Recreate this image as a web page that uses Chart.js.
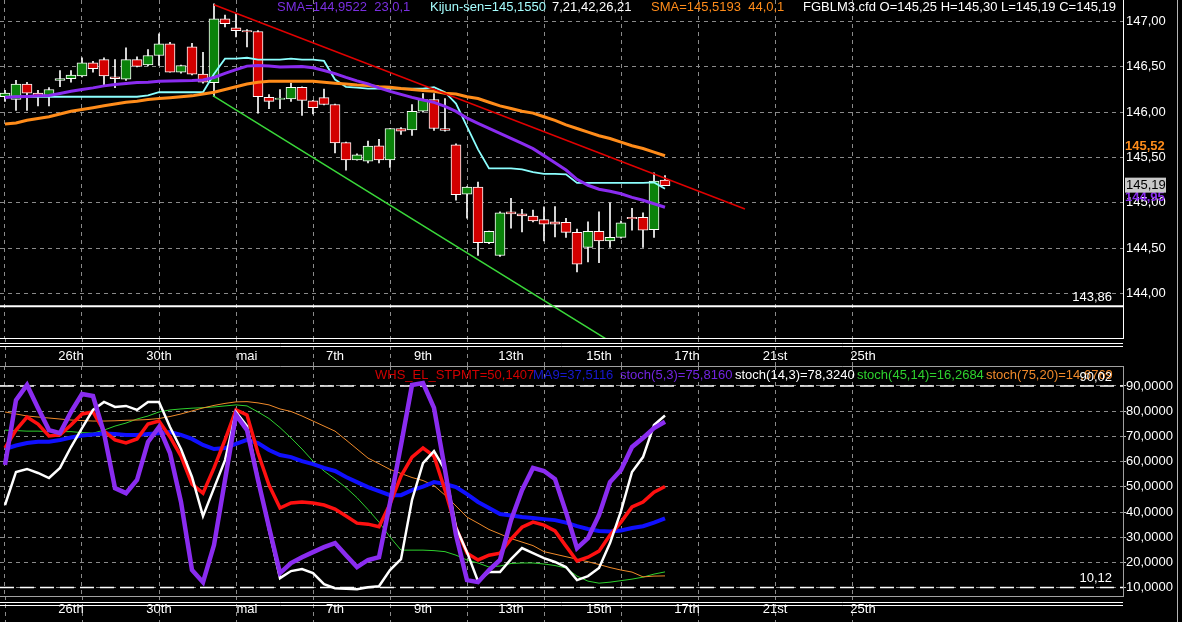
<!DOCTYPE html>
<html>
<head>
<meta charset="utf-8">
<script src="https://cdn.jsdelivr.net/npm/chart.js@4.4.0/dist/chart.umd.min.js"></script>
<style>
  html, body { margin: 0; padding: 0; background: #000; overflow: hidden; }
  #wrap { position: relative; width: 1182px; height: 622px; background: #000; }
  canvas { position: absolute; left: 0; }
  #top { top: 0; }
  #bot { top: 366px; }
</style>
</head>
<body>
<div id="wrap">
  <canvas id="top" width="1182" height="366"></canvas>
  <canvas id="bot" width="1182" height="256"></canvas>
</div>
<script>
const FONT = '"Liberation Sans", Arial, sans-serif';
const GRID = '#8a8a8a';

// FGBLM3 4h candles, one per index
const candleOpen = [146.17,146.14,146.31,146.21,146.18,146.35,146.37,146.40,146.545,146.58,
  146.39,146.365,146.58,146.52,146.625,146.755,146.44,146.72,146.42,146.325,
  147.03,146.93,146.90,146.89,146.165,146.14,146.145,146.275,146.125,146.16,
  146.085,145.665,145.475,145.46,145.63,145.475,145.82,145.805,146.01,146.14,
  145.82,145.64,145.095,145.175,144.56,144.42,144.895,144.88,144.855,144.815,
  144.785,144.785,144.675,144.51,144.685,144.58,144.62,144.84,144.84,144.705,
  145.25];
const candleHigh = [146.24,146.35,146.33,146.24,146.27,146.46,146.46,146.60,146.56,146.60,
  146.58,146.71,146.61,146.69,146.865,146.77,146.52,146.76,146.66,147.195,
  147.07,147.09,146.91,146.90,146.195,146.25,146.32,146.28,146.13,146.255,
  146.09,145.67,145.54,145.68,145.70,145.82,145.83,146.085,146.205,146.205,
  146.15,145.65,145.18,145.23,144.69,144.90,145.05,144.93,144.92,144.955,
  144.96,144.83,144.71,144.79,144.90,145.00,144.80,144.94,144.89,145.33,
  145.30];
const candleLow = [146.12,146.02,146.02,146.07,146.07,146.28,146.33,146.39,146.44,146.28,
  146.27,146.35,146.50,146.51,146.515,146.44,146.43,146.41,146.32,146.17,
  146.94,146.83,146.72,145.99,146.04,146.04,146.12,145.965,145.98,146.08,
  145.55,145.36,145.47,145.44,145.44,145.39,145.755,145.745,146.00,145.80,
  145.79,145.03,144.83,144.42,144.55,144.41,144.72,144.68,144.79,144.58,
  144.625,144.62,144.24,144.35,144.34,144.51,144.61,144.70,144.51,144.62,
  145.19];
const candleClose = [146.21,146.31,146.21,146.18,146.25,146.37,146.41,146.545,146.48,146.40,
  146.37,146.58,146.505,146.625,146.755,146.44,146.515,146.42,146.33,147.03,
  146.975,146.90,146.885,146.17,146.12,146.155,146.275,146.13,146.05,146.085,
  145.66,145.475,145.53,145.625,145.475,145.82,145.79,146.01,146.14,145.82,
  145.80,145.09,145.175,144.56,144.685,144.89,144.885,144.855,144.80,144.765,
  144.77,144.675,144.325,144.685,144.58,144.62,144.78,144.825,144.70,145.24,
  145.19];

const sma23 = [146.163,146.17,146.174,146.18,146.185,146.207,146.23,146.25,146.268,146.29,
  146.306,146.317,146.328,146.33,146.34,146.343,146.347,146.35,146.356,146.383,
  146.427,146.47,146.508,146.515,146.51,146.497,146.50,146.504,146.49,146.46,
  146.425,146.383,146.345,146.312,146.268,146.23,146.196,146.163,146.135,146.108,
  146.064,146.009,145.935,145.877,145.822,145.767,145.711,145.656,145.598,145.521,
  145.443,145.362,145.26,145.194,145.15,145.128,145.10,145.06,145.029,144.99,
  144.952];
const kijun = [146.17,146.17,146.17,146.17,146.17,146.17,146.17,146.17,146.17,146.17,
  146.17,146.17,146.17,146.185,146.22,146.22,146.22,146.22,146.22,146.42,
  146.59,146.59,146.60,146.58,146.58,146.58,146.59,146.58,146.58,146.565,
  146.36,146.28,146.27,146.26,146.26,146.26,146.26,146.26,146.26,146.275,
  146.22,146.095,145.84,145.59,145.38,145.38,145.38,145.37,145.34,145.32,
  145.32,145.315,145.22,145.22,145.22,145.22,145.22,145.22,145.22,145.225,
  145.155];
const sma44 = [145.87,145.88,145.91,145.93,145.95,145.98,146.01,146.03,146.05,146.07,
  146.09,146.11,146.12,146.14,146.15,146.16,146.17,146.18,146.20,146.22,
  146.25,146.28,146.31,146.33,146.34,146.34,146.34,146.34,146.34,146.33,
  146.32,146.31,146.30,146.295,146.28,146.275,146.26,146.25,146.24,146.23,
  146.21,146.20,146.17,146.15,146.11,146.07,146.04,146.01,145.99,145.95,
  145.91,145.86,145.82,145.78,145.74,145.71,145.67,145.63,145.60,145.56,
  145.52];

// trend lines: [index, price]
const trendHigh = [[19, 147.184], [67.27, 144.932]];
const trendLow = [[18.9, 146.182], [55, 143.473]];
const supportLevel = 143.86;

const priceTicks = [144, 144.5, 145, 145.5, 146, 146.5, 147];
const dateLabels = ['26th', '30th', 'mai', '7th', '9th', '13th', '15th', '17th', '21st', '25th'];
const dateLabelIdx = [6, 14, 22, 30, 38, 46, 54, 62, 70, 78];
const gridIdx = [0, 7, 14, 21, 28, 35, 42, 49, 56, 63, 70, 77];

// oscillators
const stpmt = [65.4,72.5,77.7,74.9,70.2,70.6,74.5,78.9,79.7,72.1,
  68.6,67.4,69.0,74.9,76.1,69.8,62.2,51.1,47.5,57.5,
  68.6,80.5,78.5,63.4,50.7,41.6,43.6,44.0,43.6,42.8,
  41.2,38.4,35.6,35.2,34.2,43.2,54.3,61.8,65.4,62.2,
  48.7,33.7,23.7,21.0,22.9,23.7,29.3,34.0,36.0,34.8,
  32.5,26.5,20.6,22.1,24.5,30.9,36.0,42.0,44.0,47.9,
  50.14];
const ma9 = [65.0,66.4,67.4,67.9,67.9,68.6,69.6,70.4,70.8,71.2,
  71.0,70.6,70.6,71.0,71.3,71.7,70.6,69.0,66.6,65.0,
  65.4,67.0,68.6,67.4,64.6,62.6,61.8,60.2,59.0,57.5,
  56.3,53.9,51.9,49.9,48.3,46.7,46.7,48.7,50.1,51.9,
  51.1,49.9,47.1,44.0,41.6,39.2,38.6,38.0,37.6,37.2,
  36.8,35.8,34.4,33.3,32.5,32.3,32.7,33.7,34.4,35.8,
  37.51];
const stoch5 = [58.7,84.4,90.4,81.3,72.5,71.3,79.7,86.8,86.0,71.3,
  49.5,47.5,52.7,67.8,73.7,63.4,44.0,17.0,12.2,26.9,
  52.7,78.5,72.5,52.7,34.0,15.8,19.8,22.1,24.1,26.1,
  27.7,22.9,18.2,21.0,22.1,43.6,66.6,90.4,91.2,81.3,
  56.7,30.9,13.0,12.2,17.0,21.0,36.8,48.7,57.5,56.3,
  53.1,40.0,25.7,29.7,38.8,51.9,56.7,65.8,69.4,73.3,
  75.82];
const stoch14 = [42.8,55.9,57.1,55.5,53.5,57.5,65.8,73.3,80.5,83.7,
  81.7,82.1,80.5,83.7,83.7,73.7,65.0,53.9,38.4,49.5,
  60.6,79.7,74.1,53.5,32.9,13.8,16.6,17.4,15.8,11.4,
  9.8,9.6,9.4,10.2,10.6,17.0,21.3,44.8,59.4,64.2,
  56.7,34.0,24.1,12.6,16.2,16.2,21.3,25.7,23.7,21.7,
  20.2,18.2,13.0,14.6,17.8,27.7,40.4,55.9,61.8,74.5,
  78.32];
const stoch45 = [72.5,72.3,72.1,72.1,71.9,71.9,71.9,71.5,71.3,72.5,
  74.1,75.3,76.9,78.1,79.7,80.5,80.9,81.2,81.4,81.7,
  82.1,82.5,82.1,79.7,77.1,73.5,69.4,65.0,60.2,56.3,
  53.1,49.7,45.7,41.0,36.0,30.1,24.9,24.9,24.9,24.7,
  24.3,22.9,21.0,19.8,18.2,18.6,19.6,19.8,19.8,19.4,
  18.8,17.8,14.6,12.6,11.8,12.2,12.8,13.4,14.2,15.4,
  16.27];
const stoch75 = [79.7,78.9,78.1,77.7,77.3,76.9,76.5,76.3,76.1,76.1,
  76.2,76.4,76.5,76.7,77.1,77.9,78.9,80.1,81.3,82.3,
  83.1,83.7,83.8,83.3,82.5,80.9,79.9,78.1,76.1,74.1,
  72.1,68.6,65.0,61.4,59.2,56.9,55.3,53.7,52.5,50.5,
  46.7,42.4,38.0,35.6,33.1,31.3,29.5,28.1,26.7,24.3,
  23.3,22.3,21.3,20.3,19.2,18.0,17.0,16.2,14.3,14.6,
  14.68];
const oscTicks = [10, 20, 30, 40, 50, 60, 70, 80, 90];
const oscBands = [90.02, 10.12];

const X_MIN = -0.4545, X_MAX = 101.636;
const xTickVals = Array.from(new Set(gridIdx.concat(dateLabelIdx))).sort((a, b) => a - b);

const pts = arr => arr.map((v, i) => ({x: i, y: v}));
const seg = arr => arr.map(p => ({x: p[0], y: p[1]}));
const flat = v => [{x: X_MIN, y: v}, {x: X_MAX, y: v}];
const comma = (v, d) => v.toFixed(d).replace('.', ',');

function lineDs(data, color, width, order, dash) {
  return {type: 'line', data, borderColor: color, borderWidth: width, borderDash: dash || [],
    pointRadius: 0, tension: 0, fill: false, order};
}

function xAxis(stripH, pad, borderColor) {
  return {
    type: 'linear', min: X_MIN, max: X_MAX, offset: false,
    afterBuildTicks(ax) { ax.ticks = xTickVals.map(v => ({value: v})); },
    afterFit(ax) { ax.height = stripH; ax.paddingLeft = 0; ax.paddingRight = 0; },
    grid: {offset: false, drawTicks: false, lineWidth: 1,
      color: c => (c.tick && gridIdx.includes(c.tick.value)) ? GRID : 'rgba(0,0,0,0)'},
    border: {display: true, color: borderColor, width: 1, dash: [4, 4]},
    ticks: {autoSkip: false, maxRotation: 0, padding: pad, color: '#fff',
      font: {family: FONT, size: 13},
      callback: v => { const k = dateLabelIdx.indexOf(v); return k < 0 ? '' : dateLabels[k]; }}
  };
}

function stripLines(chart, first, second) {
  const {ctx, chartArea: a, scales: {x}} = chart;
  ctx.save();
  ctx.fillStyle = '#000';
  ctx.fillRect(0, 0, chart.width, chart.height);
  ctx.strokeStyle = GRID; ctx.lineWidth = 1; ctx.setLineDash([4, 4]);
  gridIdx.forEach(i => {
    const px = Math.round(x.getPixelForValue(i)) + 0.5;
    ctx.beginPath(); ctx.moveTo(px, a.bottom); ctx.lineTo(px, chart.height); ctx.stroke();
  });
  ctx.setLineDash([]);
  ctx.strokeStyle = '#fff';
  [first, second].forEach(off => {
    ctx.beginPath(); ctx.moveTo(0, a.bottom + off); ctx.lineTo(a.right, a.bottom + off); ctx.stroke();
  });
  ctx.restore();
}

function rightEdge(chart) {
  const ctx = chart.ctx;
  ctx.save();
  ctx.strokeStyle = '#b4b4b4'; ctx.lineWidth = 1;
  ctx.beginPath(); ctx.moveTo(1177.5, 0); ctx.lineTo(1177.5, chart.height); ctx.stroke();
  ctx.restore();
}

function texts(ctx, items, y) {
  ctx.font = '13px ' + FONT;
  ctx.textBaseline = 'middle';
  ctx.textAlign = 'left';
  items.forEach(t => { ctx.fillStyle = t[2]; ctx.fillText(t[0], t[1], y); });
}

const topDecor = {
  id: 'topDecor',
  beforeDraw(chart) { stripLines(chart, 5.5, 8.5); },
  afterDraw(chart) {
    const {ctx, scales: {y}} = chart;
    ctx.save();
    texts(ctx, [
      ['SMA=144,9522  23,0,1', 277, '#7a2fe0'],
      ['Kijun-sen=145,1550', 430, '#a6ffff'],
      ['7,21,42,26,21', 552, '#ffffff'],
      ['SMA=145,5193  44,0,1', 651, '#ff8c1a'],
      ['FGBLM3.cfd O=145,25 H=145,30 L=145,19 C=145,19', 803, '#ffffff']
    ], 7.5);
    // level label
    ctx.textAlign = 'right'; ctx.textBaseline = 'bottom'; ctx.fillStyle = '#fff';
    ctx.fillText(comma(supportLevel, 2), 1112, y.getPixelForValue(supportLevel) - 2);
    // last values on the price axis
    ctx.textAlign = 'left';
    ctx.font = 'bold 13px ' + FONT;
    ctx.fillStyle = '#ff8c1a';
    ctx.fillText(comma(sma44[sma44.length - 1], 2), 1125, y.getPixelForValue(sma44[sma44.length - 1]) - 3);
    ctx.fillStyle = '#8a2cf0';
    ctx.fillText(comma(sma23[sma23.length - 1], 2), 1125, y.getPixelForValue(sma23[sma23.length - 1]) - 3);
    const last = candleClose[candleClose.length - 1];
    const py = y.getPixelForValue(last);
    ctx.fillStyle = '#c8c8c8';
    ctx.fillRect(1125, py - 8, 41, 15);
    ctx.font = '13px ' + FONT;
    ctx.fillStyle = '#000'; ctx.textBaseline = 'middle';
    ctx.fillText(comma(last, 2), 1126, py);
    ctx.restore();
    rightEdge(chart);
  }
};

const botDecor = {
  id: 'botDecor',
  beforeDraw(chart) { stripLines(chart, 6.5, 9.5); },
  afterDraw(chart) {
    const {ctx, chartArea: a, scales: {y}} = chart;
    ctx.save();
    ctx.strokeStyle = '#a0a0a0'; ctx.lineWidth = 1;
    ctx.beginPath(); ctx.moveTo(0, 0.5); ctx.lineTo(a.right, 0.5); ctx.stroke();
    texts(ctx, [
      ['WHS_EL_STPMT=50,1407', 375, '#d00000'],
      ['MA9=37,5116', 533, '#1818d0'],
      ['stoch(5,3)=75,8160', 620, '#7224e0'],
      ['stoch(14,3)=78,3240', 735, '#ffffff'],
      ['stoch(45,14)=16,2684', 857, '#2ed12e'],
      ['stoch(75,20)=14,6769', 986, '#f0892a']
    ], 9);
    ctx.textAlign = 'right'; ctx.textBaseline = 'bottom'; ctx.fillStyle = '#fff';
    oscBands.forEach(v => ctx.fillText(comma(v, 2), 1112, y.getPixelForValue(v) - 2));
    ctx.restore();
    rightEdge(chart);
  }
};

const candleColors = candleOpen.map((o, i) => candleClose[i] >= o ? '#0a820a' : '#d20000');
const bodies = candleOpen.map((o, i) => {
  const c = candleClose[i];
  const lo = Math.min(o, c), hi = Math.max(o, c);
  return {x: i, y: hi - lo < 0.015 ? [lo - 0.006, hi + 0.006] : [lo, hi]};
});
const wicks = candleLow.map((l, i) => ({x: i, y: [l, candleHigh[i]]}));

const common = {
  responsive: false, animation: false, devicePixelRatio: 1, events: [],
  layout: {padding: 0},
  plugins: {legend: {display: false}, tooltip: {enabled: false}}
};

new Chart(document.getElementById('top'), {
  type: 'line',
  data: {
    datasets: [
      {type: 'bar', data: wicks, backgroundColor: '#ffffff', borderWidth: 0,
        barThickness: 1, grouped: false, order: 4},
      {type: 'bar', data: bodies, backgroundColor: candleColors, borderColor: '#ffffff',
        borderWidth: 1, borderSkipped: false, barThickness: 10, grouped: false, order: 3},
      lineDs(pts(sma44), '#ff8c1a', 3, 2),
      lineDs(pts(kijun), '#8cffff', 1.8, 2),
      lineDs(pts(sma23), '#8a2cf0', 3, 1),
      lineDs(seg(trendHigh), '#e00000', 1.5, 0),
      lineDs(seg(trendLow), '#3ad83a', 1.5, 0),
      lineDs(flat(supportLevel), '#ffffff', 2, 0)
    ]
  },
  options: Object.assign({}, common, {
    scales: {
      x: xAxis(28, 11, '#ffffff'),
      y: {
        position: 'right', min: 143.51, max: 147.237,
        afterBuildTicks(ax) { ax.ticks = priceTicks.map(v => ({value: v})); },
        afterFit(ax) { ax.width = 59; ax.paddingTop = 0; ax.paddingBottom = 0; },
        grid: {color: GRID, drawTicks: false, lineWidth: 1},
        border: {display: true, color: '#ffffff', width: 1, dash: [4, 4]},
        ticks: {color: '#fff', padding: 3, font: {family: FONT, size: 13}, callback: v => comma(v, 2)}
      }
    }
  }),
  plugins: [topDecor]
});

new Chart(document.getElementById('bot'), {
  type: 'line',
  data: {
    datasets: [
      lineDs(flat(oscBands[0]), '#ffffff', 1.5, 6, [14, 6]),
      lineDs(flat(oscBands[1]), '#ffffff', 1.5, 6, [14, 6]),
      lineDs(pts(stoch75), '#f08a2a', 1, 5),
      lineDs(pts(stoch45), '#2ed12e', 1, 5),
      lineDs(pts(ma9), '#1010ff', 4, 4),
      lineDs(pts(stpmt), '#ff1010', 3.5, 3),
      lineDs(pts(stoch14), '#ffffff', 2.5, 2),
      lineDs(pts(stoch5), '#8a2cf0', 4.5, 1)
    ]
  },
  options: Object.assign({}, common, {
    scales: {
      x: xAxis(26, 6, '#a0a0a0'),
      y: {
        position: 'right', min: 6.71, max: 97.93,
        afterBuildTicks(ax) { ax.ticks = oscTicks.map(v => ({value: v})); },
        afterFit(ax) { ax.width = 59; ax.paddingTop = 0; ax.paddingBottom = 0; },
        grid: {color: GRID, drawTicks: true, tickLength: 3, tickColor: '#c0c0c0', lineWidth: 1},
        border: {display: true, color: '#a0a0a0', width: 1, dash: [4, 4]},
        ticks: {color: '#fff', padding: 0, font: {family: FONT, size: 13}, callback: v => comma(v, 4)}
      }
    }
  }),
  plugins: [botDecor]
});
</script>
</body>
</html>
